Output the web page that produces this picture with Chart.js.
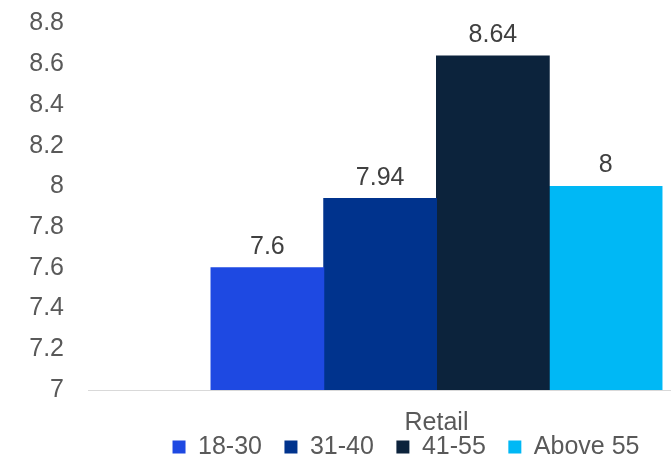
<!DOCTYPE html>
<html>
<head>
<meta charset="utf-8">
<title>Retail by age group</title>
<script src="https://cdn.jsdelivr.net/npm/chart.js@4"></script>
<style>
  html, body { margin: 0; padding: 0; background: #fff; overflow: hidden; }
  #wrap { width: 785px; height: 458px; }
</style>
</head>
<body>
<div id="wrap"><canvas id="chart" width="785" height="458"></canvas></div>
<script>
// Data
const categories = ["Retail"]
const ageGroups = ["18-30", "31-40", "41-55", "Above 55"]
const scores = [7.6, 7.94, 8.64, 8]
const groupColors = ["#1E49E2", "#00338D", "#0C233C", "#00B8F5"]
const yTicks = [7, 7.2, 7.4, 7.6, 7.8, 8, 8.2, 8.4, 8.6, 8.8]

const FONT = "'Liberation Sans', Arial, sans-serif"
const textGrey = "#595959"

// Value labels above each bar
const barValues = {
  id: "barValues",
  afterDatasetsDraw(chart) {
    const ctx = chart.ctx
    ctx.save()
    ctx.font = `25px ${FONT}`
    ctx.fillStyle = "#404040"
    ctx.textAlign = "center"
    ctx.textBaseline = "alphabetic"
    chart.data.datasets.forEach((ds, i) => {
      chart.getDatasetMeta(i).data.forEach((bar, j) => {
        ctx.fillText(String(ds.data[j]), bar.x, bar.y - 14)
      })
    })
    ctx.restore()
  },
}

// Pull the legend up so it sits tight under the category label
const legendNudge = {
  id: "legendNudge",
  afterLayout(chart) {
    const lg = chart.legend
    if (!lg) return
    lg.top -= 26.5
    lg.bottom -= 26.5
  },
}

const ctx = document.getElementById("chart").getContext("2d")

new Chart(ctx, {
  type: "bar",
  data: {
    labels: categories,
    datasets: ageGroups.map((name, i) => ({
      label: name,
      data: [scores[i]],
      backgroundColor: groupColors[i],
      borderWidth: 0,
      inflateAmount: 0.5,
      categoryPercentage: 0.647,
      barPercentage: 1,
    })),
  },
  options: {
    responsive: false,
    animation: false,
    layout: {
      padding: { top: 23.5, left: 27, right: 0, bottom: -38 },
    },
    plugins: {
      tooltip: { enabled: false },
      legend: {
        position: "bottom",
        labels: {
          boxWidth: 13,
          boxHeight: 13,
          padding: 22.5,
          color: textGrey,
          font: { family: FONT, size: 25 },
        },
      },
    },
    scales: {
      x: {
        grid: { display: false, drawTicks: false },
        border: { display: true, color: "#D9D9D9", width: 1 },
        ticks: {
          color: textGrey,
          padding: 18.5,
          font: { family: FONT, size: 25 },
        },
        afterFit(scale) {
          scale.height = 48.5
        },
      },
      y: {
        min: 7,
        max: 8.8,
        grid: { display: false, drawTicks: false },
        border: { display: false },
        ticks: {
          color: textGrey,
          padding: 24,
          font: { family: FONT, size: 25 },
          callback: (v) => String(+v.toFixed(1)),
        },
        afterBuildTicks(scale) {
          scale.ticks = yTicks.map((v) => ({ value: v }))
        },
        afterFit(scale) {
          scale.width = 61
          scale.paddingTop = 0
          scale.paddingBottom = 0
        },
      },
    },
  },
  plugins: [barValues, legendNudge],
})
</script>
</body>
</html>
